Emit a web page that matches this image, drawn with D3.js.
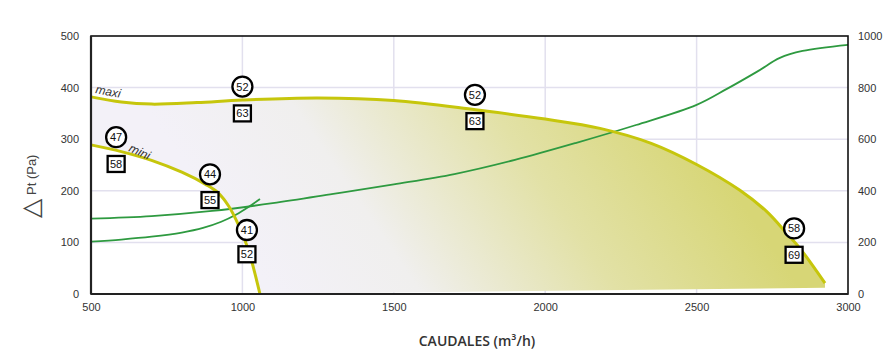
<!DOCTYPE html>
<html><head><meta charset="utf-8">
<script src="https://cdn.jsdelivr.net/npm/d3@7"></script>
<style>
html,body{margin:0;padding:0;background:#fff;}
svg{display:block;font-family:"Liberation Sans",Arial,sans-serif;}
</style></head>
<body>
<svg id="chart" width="887" height="349"></svg>
<script>
// ---- data ----
const xTicks = [500, 1000, 1500, 2000, 2500, 3000];
const yTicks = [0, 100, 200, 300, 400, 500];
const y2Ticks = [0, 200, 400, 600, 800, 1000];

const maxiFlow = [500, 600, 700, 850, 1000, 1250, 1500, 1770, 2000, 2181, 2350, 2500, 2643, 2731, 2797, 2842, 2924];
const maxiPa   = [382, 372, 368, 371, 376, 380, 375, 357, 339, 321, 292, 251, 201, 160, 118, 88, 21];

const miniFlow = [500, 600, 700, 800, 880, 920, 955, 990, 1020, 1058];
const miniPa   = [289, 276, 259, 236, 212, 196, 170, 130, 85, 0];

const baseFlow = [2924, 1058];
const basePa   = [12, 0];

const powMaxFlow = [500, 700, 900, 1100, 1300, 1500, 1700, 1900, 2100, 2300, 2500, 2600, 2700, 2775, 2850, 3000];
const powMaxW    = [292, 302, 322, 352, 388, 425, 465, 520, 585, 655, 733, 795, 862, 915, 942, 966];

const powMinFlow = [500, 600, 700, 800, 870, 930, 980, 1020, 1058];
const powMinW    = [203, 211, 222, 238, 256, 280, 308, 337, 368];

const markFlow  = [1000, 583, 893, 1015, 1768, 2822];
const circleVal = [52, 47, 44, 41, 52, 58];
const circlePa  = [402, 304, 232, 124, 386, 127];
const squareVal = [63, 58, 55, 52, 63, 69];
const squarePa  = [350, 252, 182, 77, 335, 76];

// ---- layout ----
const W = 887, H = 349;
const m = {left: 91, right: 39, top: 36, bottom: 55};
const svg = d3.select("#chart");
const x = d3.scaleLinear().domain([500, 3000]).range([m.left, W - m.right]);
const y = d3.scaleLinear().domain([0, 500]).range([H - m.bottom, m.top]);
const y2 = d3.scaleLinear().domain([0, 1000]).range([H - m.bottom, m.top]);

// gradient
const defs = svg.append("defs");
const grad = defs.append("linearGradient").attr("id", "fillGrad")
  .attr("gradientUnits", "userSpaceOnUse")
  .attr("x1", x(1100)).attr("y1", y(0))
  .attr("x2", x(2300)).attr("y2", y(480));
grad.append("stop").attr("offset", 0).attr("stop-color", "#f3f1f8");
grad.append("stop").attr("offset", 0.28).attr("stop-color", "#f0efee");
grad.append("stop").attr("offset", 0.65).attr("stop-color", "#e2e1a6");
grad.append("stop").attr("offset", 1).attr("stop-color", "#d7d676");

// grid
const grid = svg.append("g");
grid.selectAll("line.gx").data(xTicks.slice(1, -1)).join("line")
  .attr("x1", d => x(d)).attr("x2", d => x(d))
  .attr("y1", y(0)).attr("y2", y(500))
  .attr("stroke", "#e2e0ee").attr("stroke-width", 1.5);
grid.selectAll("line.gy").data(yTicks.slice(1, -1)).join("line")
  .attr("x1", x(500)).attr("x2", x(3000))
  .attr("y1", d => y(d)).attr("y2", d => y(d))
  .attr("stroke", "#e2e0ee").attr("stroke-width", 1.5);

// fill area
const maxiPts = maxiFlow.map((f, i) => [f, maxiPa[i]]);
const miniPts = miniFlow.map((f, i) => [f, miniPa[i]]);
const basePts = baseFlow.map((f, i) => [f, basePa[i]]);
const curve = d3.curveCatmullRom.alpha(0.5);
const lineP = d3.line().x(d => x(d[0])).y(d => y(d[1])).curve(curve);
const maxiPath = lineP(maxiPts);
const miniRevPath = lineP(miniPts.slice().reverse());
const polyPath = maxiPath + "L" + x(basePts[0][0]) + "," + y(basePts[0][1]) +
  "L" + x(basePts[1][0]) + "," + y(basePts[1][1]) + miniRevPath.replace(/^M/, "L") + "Z";
svg.append("path").attr("d", polyPath).attr("fill", "url(#fillGrad)").attr("stroke", "none");

// power curves
const lineW = d3.line().x(d => x(d[0])).y(d => y2(d[1])).curve(curve);
svg.append("path").attr("d", lineW(powMaxFlow.map((f, i) => [f, powMaxW[i]])))
  .attr("fill", "none").attr("stroke", "#2e9a40").attr("stroke-width", 1.8);
svg.append("path").attr("d", lineW(powMinFlow.map((f, i) => [f, powMinW[i]])))
  .attr("fill", "none").attr("stroke", "#2e9a40").attr("stroke-width", 1.8);

// pressure curves
svg.append("path").attr("d", maxiPath).attr("fill", "none")
  .attr("stroke", "#c6c60c").attr("stroke-width", 3);
svg.append("path").attr("d", lineP(miniPts)).attr("fill", "none")
  .attr("stroke", "#c6c60c").attr("stroke-width", 3);

// frame
svg.append("rect").attr("x", x(500)).attr("y", y(500))
  .attr("width", x(3000) - x(500)).attr("height", y(0) - y(500))
  .attr("fill", "none").attr("stroke", "#111").attr("stroke-width", 1.6);
svg.append("line").attr("x1", x(500)).attr("x2", x(500)).attr("y1", y(500)).attr("y2", y(0))
  .attr("stroke", "#222").attr("stroke-width", 2.2);
svg.append("line").attr("x1", x(500)).attr("x2", x(3000)).attr("y1", y(0)).attr("y2", y(0))
  .attr("stroke", "#222").attr("stroke-width", 2.2);

// axes
const fmt = d3.format("d");
const axL = svg.append("g").attr("transform", `translate(${m.left},0)`)
  .call(d3.axisLeft(y).tickValues(yTicks).tickFormat(fmt).tickSize(0).tickPadding(12));
const axB = svg.append("g").attr("transform", `translate(0,${H - m.bottom})`)
  .call(d3.axisBottom(x).tickValues(xTicks).tickFormat(fmt).tickSize(0).tickPadding(9));
const axR = svg.append("g").attr("transform", `translate(${W - m.right},0)`)
  .call(d3.axisRight(y2).tickValues(y2Ticks).tickFormat(fmt).tickSize(0).tickPadding(10));
[axL, axB, axR].forEach(a => {
  a.select(".domain").remove();
  a.selectAll("text").attr("font-size", 11).attr("fill", "#333")
    .attr("font-family", "'Liberation Sans', Arial, sans-serif");
});

// curve labels
svg.append("text").attr("transform", `translate(95,93) rotate(11)`)
  .attr("font-size", 12).attr("font-style", "italic").attr("fill", "#333").text("maxi");
svg.append("text").attr("transform", `translate(128,151) rotate(24)`)
  .attr("font-size", 12).attr("font-style", "italic").attr("fill", "#333").text("mini");

// markers
const mk = svg.append("g");
markFlow.forEach((f, i) => {
  const cx = x(f), cy = y(circlePa[i]);
  mk.append("circle").attr("cx", cx).attr("cy", cy).attr("r", 10)
    .attr("fill", "#fff").attr("stroke", "#000").attr("stroke-width", 2.3);
  mk.append("text").attr("x", cx).attr("y", cy).attr("dy", "0.36em")
    .attr("text-anchor", "middle").attr("font-size", 11).attr("fill", "#111").text(circleVal[i]);
  const sy = y(squarePa[i]);
  mk.append("rect").attr("x", cx - 8.5).attr("y", sy - 8).attr("width", 17).attr("height", 16)
    .attr("fill", "#fff").attr("stroke", "#000").attr("stroke-width", 2.3);
  mk.append("text").attr("x", cx).attr("y", sy).attr("dy", "0.36em")
    .attr("text-anchor", "middle").attr("font-size", 11).attr("fill", "#111").text(squareVal[i]);
});

// axis titles
const yl = svg.append("text").attr("transform", "translate(39,218) rotate(-90)")
  .attr("fill", "#444").attr("font-family", "'DejaVu Sans', sans-serif");
yl.append("tspan").attr("font-size", 25).attr("font-weight", 200).text("△");
yl.append("tspan").attr("dx", 4).attr("font-size", 13).attr("dy", -3)
  .attr("font-family", "'Liberation Sans', Arial, sans-serif").text("Pt (Pa)");

svg.append("text").attr("x", 477).attr("y", 346).attr("text-anchor", "middle")
  .attr("font-size", 14).attr("font-weight", 600).attr("fill", "#333")
  .attr("font-family", "'Open Sans', sans-serif").text("CAUDALES (m³/h)");
</script>
</body></html>
